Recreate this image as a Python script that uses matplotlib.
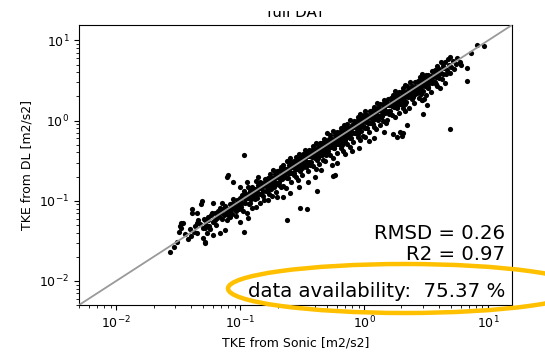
import numpy as np
import matplotlib
matplotlib.use('Agg')
import matplotlib.pyplot as plt
from matplotlib.patches import Ellipse, Rectangle

# TKE pairs (sonic, doppler lidar) in m2/s2
low_end = [(0.027, 0.0232), (0.0291, 0.0267), (0.0308, 0.0308), (0.0331, 0.0532), (0.0345, 0.0532),
           (0.0331, 0.0461), (0.0325, 0.0489), (0.0318, 0.0411), (0.0406, 0.0795), (0.0406, 0.0709),
           (0.0446, 0.0709), (0.0446, 0.0532), (0.049, 0.100), (0.048, 0.0918), (0.0518, 0.0461),
           (0.0499, 0.0346), (0.0518, 0.0308), (0.0518, 0.0293), (0.0601, 0.0944), (0.059, 0.0709),
           (0.0547, 0.058), (0.0601, 0.0377), (0.0684, 0.0399), (0.071, 0.0944), (0.0751, 0.0435),
           (0.0824, 0.0632), (0.0993, 0.0547), (0.107, 0.0411), (0.115, 0.0614), (0.119, 0.0944),
           (0.036, 0.038), (0.038, 0.033), (0.039, 0.045), (0.042, 0.041), (0.043, 0.048),
           (0.045, 0.040), (0.047, 0.052), (0.050, 0.046), (0.052, 0.057), (0.053, 0.050),
           (0.055, 0.062), (0.056, 0.048), (0.058, 0.066), (0.060, 0.055), (0.062, 0.070),
           (0.063, 0.058), (0.065, 0.061), (0.066, 0.075), (0.068, 0.064), (0.070, 0.072),
           (0.071, 0.060), (0.073, 0.080), (0.074, 0.066), (0.076, 0.085), (0.077, 0.070),
           (0.079, 0.078), (0.080, 0.066), (0.082, 0.090), (0.083, 0.075), (0.085, 0.082),
           (0.086, 0.068), (0.088, 0.095), (0.089, 0.080), (0.091, 0.088), (0.092, 0.074),
           (0.094, 0.102), (0.095, 0.085), (0.097, 0.094), (0.098, 0.079), (0.099, 0.108),
           (0.064, 0.050), (0.069, 0.082), (0.078, 0.058), (0.087, 0.104), (0.093, 0.065),
           (0.057, 0.044), (0.051, 0.060), (0.046, 0.058), (0.040, 0.036), (0.054, 0.040)]

core_a = [(0.100, 0.100), (0.102, 0.0836), (0.103, 0.118), (0.104, 0.0946), (0.106, 0.0742),
          (0.107, 0.133), (0.109, 0.105), (0.110, 0.0946), (0.112, 0.121), (0.113, 0.0701),
          (0.115, 0.150), (0.116, 0.108), (0.118, 0.0920), (0.119, 0.133), (0.121, 0.106),
          (0.122, 0.124), (0.124, 0.0818), (0.125, 0.149), (0.127, 0.107), (0.128, 0.125),
          (0.130, 0.112), (0.131, 0.141), (0.133, 0.0825), (0.134, 0.174), (0.136, 0.126),
          (0.137, 0.107), (0.139, 0.156), (0.140, 0.123), (0.142, 0.145), (0.143, 0.0944),
          (0.145, 0.173), (0.146, 0.123), (0.148, 0.145),
          (0.150, 0.168), (0.152, 0.134), (0.154, 0.157), (0.156, 0.103), (0.158, 0.188),
          (0.160, 0.134), (0.162, 0.159), (0.164, 0.164), (0.166, 0.136), (0.168, 0.193),
          (0.170, 0.155), (0.172, 0.120), (0.174, 0.216), (0.176, 0.169), (0.178, 0.153),
          (0.180, 0.194), (0.182, 0.113), (0.184, 0.239), (0.186, 0.173), (0.188, 0.147),
          (0.190, 0.213), (0.192, 0.169), (0.194, 0.198), (0.196, 0.129), (0.198, 0.236),
          (0.200, 0.168), (0.202, 0.198), (0.204, 0.204), (0.206, 0.169), (0.208, 0.239),
          (0.210, 0.191), (0.212, 0.148), (0.214, 0.265), (0.216, 0.207), (0.218, 0.187),
          (0.220, 0.154), (0.223, 0.277), (0.226, 0.217), (0.229, 0.197), (0.232, 0.251),
          (0.235, 0.146), (0.238, 0.309), (0.241, 0.224), (0.244, 0.190), (0.247, 0.277),
          (0.250, 0.220), (0.253, 0.258), (0.256, 0.169), (0.259, 0.308), (0.262, 0.220),
          (0.265, 0.260), (0.268, 0.268), (0.271, 0.222), (0.274, 0.315), (0.277, 0.252),
          (0.280, 0.196), (0.283, 0.351), (0.286, 0.275), (0.289, 0.249), (0.292, 0.315),
          (0.295, 0.183), (0.298, 0.387), (0.301, 0.280), (0.304, 0.237), (0.307, 0.344),
          (0.310, 0.273), (0.313, 0.319), (0.316, 0.209), (0.319, 0.380), (0.322, 0.270),
          (0.325, 0.319), (0.328, 0.328)]

core_b = [(0.330, 0.429), (0.334, 0.311), (0.338, 0.264), (0.342, 0.383), (0.346, 0.304),
          (0.350, 0.357), (0.354, 0.234), (0.358, 0.426), (0.362, 0.304), (0.366, 0.359),
          (0.370, 0.370), (0.374, 0.307), (0.378, 0.435), (0.382, 0.348), (0.386, 0.270),
          (0.390, 0.484), (0.394, 0.378), (0.398, 0.342), (0.402, 0.434), (0.406, 0.252),
          (0.410, 0.533), (0.414, 0.385), (0.418, 0.326), (0.422, 0.473), (0.426, 0.375),
          (0.430, 0.439), (0.434, 0.286), (0.438, 0.521), (0.442, 0.371), (0.446, 0.437),
          (0.450, 0.450), (0.454, 0.372), (0.458, 0.527), (0.462, 0.420), (0.466, 0.326),
          (0.470, 0.583), (0.474, 0.455), (0.478, 0.411),
          (0.480, 0.317), (0.486, 0.578), (0.492, 0.413), (0.498, 0.488), (0.504, 0.504),
          (0.510, 0.418), (0.516, 0.593), (0.522, 0.475), (0.528, 0.370), (0.534, 0.662),
          (0.540, 0.518), (0.546, 0.470), (0.552, 0.596), (0.558, 0.346), (0.564, 0.733),
          (0.570, 0.530), (0.576, 0.449), (0.582, 0.652), (0.588, 0.517), (0.594, 0.606),
          (0.600, 0.396), (0.606, 0.721), (0.612, 0.514), (0.618, 0.606), (0.624, 0.624),
          (0.630, 0.517), (0.636, 0.731), (0.642, 0.584), (0.648, 0.454), (0.654, 0.811),
          (0.660, 0.634), (0.666, 0.573), (0.672, 0.726), (0.678, 0.420), (0.684, 0.889),
          (0.690, 0.642), (0.696, 0.543),
          (0.700, 0.574), (0.708, 0.814), (0.716, 0.652), (0.724, 0.507), (0.732, 0.908),
          (0.740, 0.710), (0.748, 0.643), (0.756, 0.816), (0.764, 0.474), (0.772, 1.004),
          (0.780, 0.725), (0.788, 0.615), (0.796, 0.892), (0.804, 0.708), (0.812, 0.828),
          (0.820, 0.541), (0.828, 0.985), (0.836, 0.702), (0.844, 0.827), (0.852, 0.852),
          (0.860, 0.705), (0.868, 0.998), (0.876, 0.797), (0.884, 0.619), (0.892, 1.106),
          (0.900, 0.864), (0.908, 0.781), (0.916, 0.989), (0.924, 0.573), (0.932, 1.212),
          (0.940, 0.874), (0.948, 0.739), (0.956, 1.071), (0.964, 0.848), (0.972, 0.991),
          (0.980, 0.647), (0.988, 1.176), (0.996, 0.837)]

core_c = [(1.000, 1.08), (1.012, 0.627), (1.024, 1.331), (1.036, 0.963), (1.048, 0.817),
          (1.060, 1.187), (1.072, 0.943), (1.084, 1.106), (1.096, 0.723), (1.108, 1.319),
          (1.120, 0.941), (1.132, 1.109), (1.144, 1.144), (1.156, 0.948), (1.168, 1.343),
          (1.180, 1.074), (1.192, 0.834), (1.204, 1.493), (1.216, 1.167), (1.228, 1.056),
          (1.240, 1.339), (1.252, 0.776), (1.264, 1.643), (1.276, 1.187), (1.288, 1.005),
          (1.300, 1.456), (1.312, 1.155), (1.324, 1.350), (1.336, 0.882), (1.348, 1.604),
          (1.360, 1.142), (1.372, 1.345), (1.384, 1.384), (1.396, 1.145), (1.408, 1.619),
          (1.420, 1.292), (1.432, 1.002), (1.444, 1.791), (1.456, 1.398), (1.468, 1.262),
          (1.480, 1.598), (1.492, 0.925),
          (1.500, 1.320), (1.518, 1.548), (1.536, 1.014), (1.554, 1.849), (1.572, 1.320),
          (1.590, 1.558), (1.608, 1.608), (1.626, 1.333), (1.644, 1.891), (1.662, 1.512),
          (1.680, 1.176), (1.698, 2.106), (1.716, 1.647), (1.734, 1.491), (1.752, 1.892),
          (1.770, 1.097), (1.788, 2.324), (1.806, 1.680), (1.824, 1.423), (1.842, 2.063),
          (1.860, 1.637), (1.878, 1.916), (1.896, 1.251), (1.914, 2.278), (1.932, 1.623),
          (1.950, 1.911), (1.968, 1.968), (1.986, 1.629), (2.004, 2.305), (2.022, 1.840),
          (2.040, 1.428), (2.058, 2.552), (2.076, 1.993), (2.094, 1.801), (2.112, 2.281),
          (2.130, 1.321), (2.148, 2.792), (2.166, 2.014), (2.184, 1.704),
          (2.20, 2.728), (2.23, 2.141), (2.26, 1.944), (2.29, 2.473), (2.32, 1.438),
          (2.35, 3.055), (2.38, 2.213), (2.41, 1.880), (2.44, 2.733), (2.47, 2.174),
          (2.50, 2.550), (2.53, 1.670), (2.56, 3.046), (2.59, 2.176), (2.62, 2.568),
          (2.65, 2.650), (2.68, 2.198), (2.71, 3.117), (2.74, 2.493), (2.77, 1.939),
          (2.80, 3.472), (2.83, 2.717), (2.86, 2.460), (2.89, 3.121), (2.92, 1.810),
          (2.95, 3.835), (2.98, 2.771), (3.01, 2.348), (3.04, 3.405), (3.07, 2.702),
          (3.10, 3.162), (3.13, 2.066), (3.16, 3.760),
          (3.20, 2.976), (3.25, 2.535), (3.30, 3.696), (3.35, 2.948), (3.40, 3.468),
          (3.45, 2.277), (3.50, 4.165), (3.55, 2.982), (3.60, 3.528), (3.65, 3.650),
          (3.70, 3.034), (3.75, 4.313), (3.80, 3.458), (3.85, 2.695), (3.90, 4.836),
          (3.95, 3.792), (4.00, 3.440), (4.05, 4.374), (4.10, 2.542), (4.15, 5.395),
          (4.20, 3.906), (4.25, 3.315), (4.30, 4.816), (4.35, 3.828), (4.40, 4.488),
          (4.45, 2.937), (4.50, 5.355), (4.55, 3.822)]

# extra points in the solid middle of the band
core_fill = [(0.120, 0.113), (0.120, 0.127), (0.126, 0.110), (0.126, 0.139), (0.132, 0.128),
             (0.132, 0.106), (0.139, 0.143), (0.139, 0.125), (0.146, 0.123), (0.146, 0.165),
             (0.153, 0.151), (0.153, 0.116), (0.161, 0.151), (0.161, 0.171), (0.169, 0.147),
             (0.169, 0.186), (0.177, 0.172), (0.177, 0.142), (0.186, 0.192), (0.186, 0.167),
             (0.195, 0.164), (0.195, 0.220), (0.205, 0.203), (0.205, 0.156), (0.215, 0.202),
             (0.215, 0.228), (0.226, 0.197), (0.226, 0.249), (0.237, 0.230), (0.237, 0.190),
             (0.249, 0.256), (0.249, 0.224), (0.261, 0.219), (0.261, 0.295), (0.274, 0.271),
             (0.274, 0.208), (0.288, 0.271), (0.288, 0.305), (0.302, 0.263), (0.302, 0.332),
             (0.317, 0.307), (0.317, 0.254), (0.333, 0.343), (0.333, 0.300), (0.350, 0.294),
             (0.350, 0.396), (0.367, 0.363), (0.367, 0.279), (0.386, 0.363), (0.386, 0.409),
             (0.405, 0.352), (0.405, 0.446), (0.425, 0.412), (0.425, 0.340), (0.446, 0.459),
             (0.446, 0.401), (0.469, 0.394), (0.469, 0.530), (0.492, 0.487), (0.492, 0.374),
             (0.517, 0.486), (0.517, 0.548), (0.543, 0.472), (0.543, 0.597), (0.570, 0.553),
             (0.570, 0.456), (0.598, 0.616), (0.598, 0.538), (0.628, 0.528), (0.628, 0.710),
             (0.660, 0.653), (0.660, 0.502), (0.693, 0.651), (0.693, 0.735), (0.727, 0.632),
             (0.727, 0.800), (0.764, 0.741), (0.764, 0.611), (0.802, 0.826), (0.802, 0.722),
             (0.842, 0.707), (0.842, 0.951), (0.884, 0.875), (0.884, 0.672), (0.928, 0.872),
             (0.928, 0.984), (0.975, 0.848), (0.975, 1.073), (1.02, 0.989), (1.02, 0.816),
             (1.07, 1.102), (1.07, 0.963), (1.13, 0.949), (1.13, 1.277), (1.18, 1.168),
             (1.18, 0.897), (1.24, 1.166), (1.24, 1.314), (1.30, 1.131), (1.30, 1.430),
             (1.37, 1.329), (1.37, 1.096), (1.44, 1.483), (1.44, 1.296), (1.51, 1.268),
             (1.51, 1.706), (1.59, 1.574), (1.59, 1.208), (1.67, 1.570), (1.67, 1.770),
             (1.75, 1.523), (1.75, 1.925), (1.84, 1.785), (1.84, 1.472), (1.93, 1.988),
             (1.93, 1.737), (2.02, 1.697), (2.02, 2.283), (2.13, 2.109), (2.13, 1.619),
             (2.23, 2.096), (2.23, 2.364), (2.34, 2.036), (2.34, 2.574), (2.46, 2.386),
             (2.46, 1.968), (2.58, 2.657), (2.58, 2.322), (2.71, 2.276), (2.71, 3.062),
             (2.85, 2.822), (2.85, 2.166), (2.99, 2.811), (2.99, 3.169), (3.14, 2.732),
             (3.14, 3.454), (3.30, 3.201), (3.30, 2.640), (3.46, 3.564), (3.46, 3.114),
             (3.64, 3.058), (3.64, 4.113), (3.82, 3.782), (3.82, 2.903), (4.01, 3.769),
             (4.01, 4.251)]

high_end = [(4.92, 6.2), (4.73, 5.87), (5.92, 5.38), (6.74, 4.53), (6.74, 3.12), (7.26, 6.97),
            (8.11, 8.77), (9.23, 8.51), (4.7, 4.3), (5.0, 4.6), (5.2, 5.6), (4.8, 5.0),
            (5.5, 5.1), (4.9, 3.9), (5.3, 4.4), (6.0, 5.0), (5.6, 6.1)]

outliers = [(4.92, 0.787), (3.2, 1.57), (2.92, 1.81), (2.98, 1.2), (3.04, 1.86), (2.21, 0.884),
            (2.01, 0.645), (1.84, 0.627), (1.70, 0.683), (1.44, 0.723), (1.94, 0.72), (2.05, 0.70),
            (0.58, 0.21), (0.558, 0.205), (0.415, 0.133), (0.345, 0.0794), (0.303, 0.0818),
            (0.238, 0.058), (0.167, 0.103), (0.197, 0.112), (0.3, 0.15), (0.45, 0.24),
            (0.7, 0.38), (0.9, 0.45), (1.2, 0.6), (0.25, 0.125), (0.35, 0.17), (0.6, 0.3),
            (0.55, 0.28), (1.1, 0.55), (0.8, 0.42), (0.4, 0.2), (0.22, 0.11),
            (0.107, 0.374), (0.0794, 0.211), (0.0871, 0.172), (0.0779, 0.199), (0.139, 0.199),
            (0.113, 0.172), (0.0993, 0.149), (0.5, 0.7), (0.25, 0.34)]

rmsd = 0.26
r2 = 0.97
availability = 75.37
lims = [0.005, 15.6]

pts = np.array(low_end + core_a + core_b + core_c + core_fill + high_end + outliers)
sonic = pts[:, 0]
dl = pts[:, 1]

fig = plt.figure(figsize=(5.45, 3.52), dpi=100)
ax = fig.add_axes([0.145, 0.1335, 0.7945, 0.7955])

ax.scatter(sonic, dl, s=14, c='black', linewidths=0, zorder=2)
ax.plot(lims, lims, color='#999999', lw=1.3, zorder=3)
ax.set_xscale('log')
ax.set_yscale('log')
ax.set_xlim(lims)
ax.set_ylim(lims)

ax.tick_params(labelsize=9)
ax.set_xlabel('TKE from Sonic [m2/s2]', fontsize=9)
ax.set_ylabel('TKE from DL [m2/s2]', fontsize=9)
ax.set_title('full DAY', fontsize=10.9)

ax.text(0.985, 0.234, 'RMSD = %.2f' % rmsd, transform=ax.transAxes, ha='right', va='baseline', fontsize=14.2)
ax.text(0.985, 0.161, 'R2 = %.2f' % r2, transform=ax.transAxes, ha='right', va='baseline', fontsize=14.2)
ax.text(0.985, 0.0286, 'data availability:  %.2f %%' % availability, transform=ax.transAxes,
        ha='right', va='baseline', fontsize=14.2)

# orange highlight ring drawn over the figure
ring = Ellipse((405 / 545, 1 - 288.5 / 352), 354 / 545, 49 / 352, transform=fig.transFigure,
               fill=False, edgecolor='#FFC000', lw=3.2, zorder=10)
fig.add_artist(ring)

# top of the screenshot is cut through the title
fig.add_artist(Rectangle((0, 1 - 10.5 / 352), 1, 10.5 / 352, transform=fig.transFigure,
                         facecolor='white', edgecolor='none', zorder=20))

fig.savefig('out.png', dpi=100)
